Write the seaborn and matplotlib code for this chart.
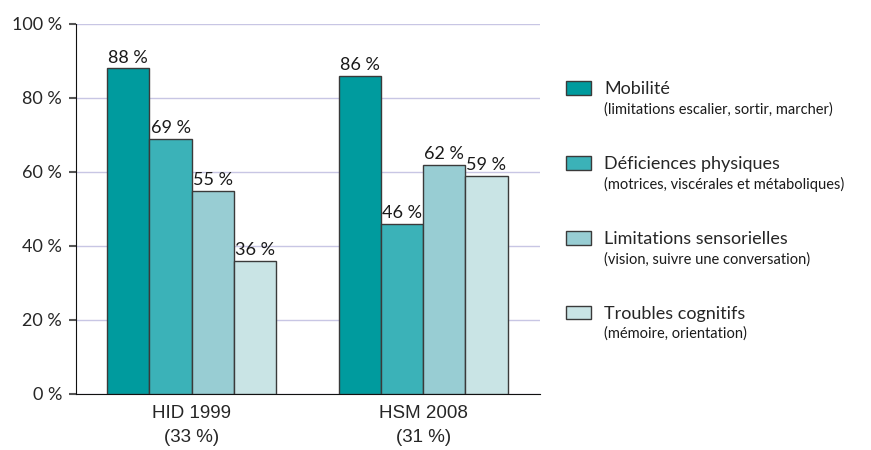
import pandas as pd
import matplotlib.pyplot as plt
import seaborn as sns
from matplotlib.patches import Patch

# data
enquetes = ["HID 1999\n(33 %)", "HSM 2008\n(31 %)"]
types = ["Mobilité", "Déficiences physiques", "Limitations sensorielles", "Troubles cognitifs"]
details = ["(limitations escalier, sortir, marcher)",
           "(motrices, viscérales et métaboliques)",
           "(vision, suivre une conversation)",
           "(mémoire, orientation)"]
hid_1999 = [88, 69, 55, 36]
hsm_2008 = [86, 46, 62, 59]
couleurs = ["#009b9e", "#3bb2b8", "#98cdd3", "#c9e4e5"]

rows = []
for enquete, vals in zip(enquetes, [hid_1999, hsm_2008]):
    for t, v in zip(types, vals):
        rows.append({"enquete": enquete, "type": t, "pct": v})
df = pd.DataFrame(rows)

sns.set_style("white")
plt.rcParams['font.family'] = ['Lato', 'DejaVu Sans']

fig = plt.figure(figsize=(8.71, 4.5), dpi=100)
ax = fig.add_axes([76 / 871, 1 - 394 / 450, (540 - 76) / 871, (394 - 24) / 450])

sns.barplot(data=df, x="enquete", y="pct", hue="type", hue_order=types,
            palette=couleurs, saturation=1, width=0.73, edgecolor="#3a3a3a",
            linewidth=1, legend=False, ax=ax, zorder=3)

for cont in ax.containers:
    ax.bar_label(cont, fmt="%g %%", padding=2, fontsize=13, color="#1a1a1a")

ax.set_ylim(0, 100)
ax.set_xlim(-0.5, 1.505)
ax.set_yticks([0, 20, 40, 60, 80, 100])
ax.set_yticklabels([f"{v} %" for v in [0, 20, 40, 60, 80, 100]])
ax.yaxis.grid(True, color="#c8c6e4", linewidth=1, zorder=0)
ax.set_axisbelow(True)
ax.set_xlabel("")
ax.set_ylabel("")
sns.despine(ax=ax, top=True, right=True)
ax.spines['left'].set_color("#111111")
ax.spines['bottom'].set_color("#111111")
ax.tick_params(axis='y', length=5, width=1.5, color="#555555", labelsize=13, pad=5, left=True)
ax.tick_params(axis='x', length=0, labelsize=13.5, pad=8)
for lab in ax.get_xticklabels():
    lab.set_fontfamily('Liberation Sans')
    lab.set_linespacing(1.55)

handles = [Patch(facecolor=c, edgecolor="#3a3a3a", linewidth=1) for c in couleurs]
leg = fig.legend(handles, types, loc="upper left", bbox_to_anchor=(557 / 871, 1 - 72 / 450),
                 frameon=False, fontsize=13, handlelength=1.4, handleheight=0.8,
                 handletextpad=0.72, labelspacing=3.25, borderpad=0)

fig.canvas.draw()
inv = fig.transFigure.inverted()
for txt, d in zip(leg.get_texts(), details):
    bb = txt.get_window_extent()
    x, y = inv.transform((bb.x0, bb.y0 - 5))
    fig.text(x, y, d, ha="left", va="top", fontsize=10.5,
             family=['Lato', 'DejaVu Sans'], color="#1a1a1a")

fig.savefig("out.png", dpi=100)
